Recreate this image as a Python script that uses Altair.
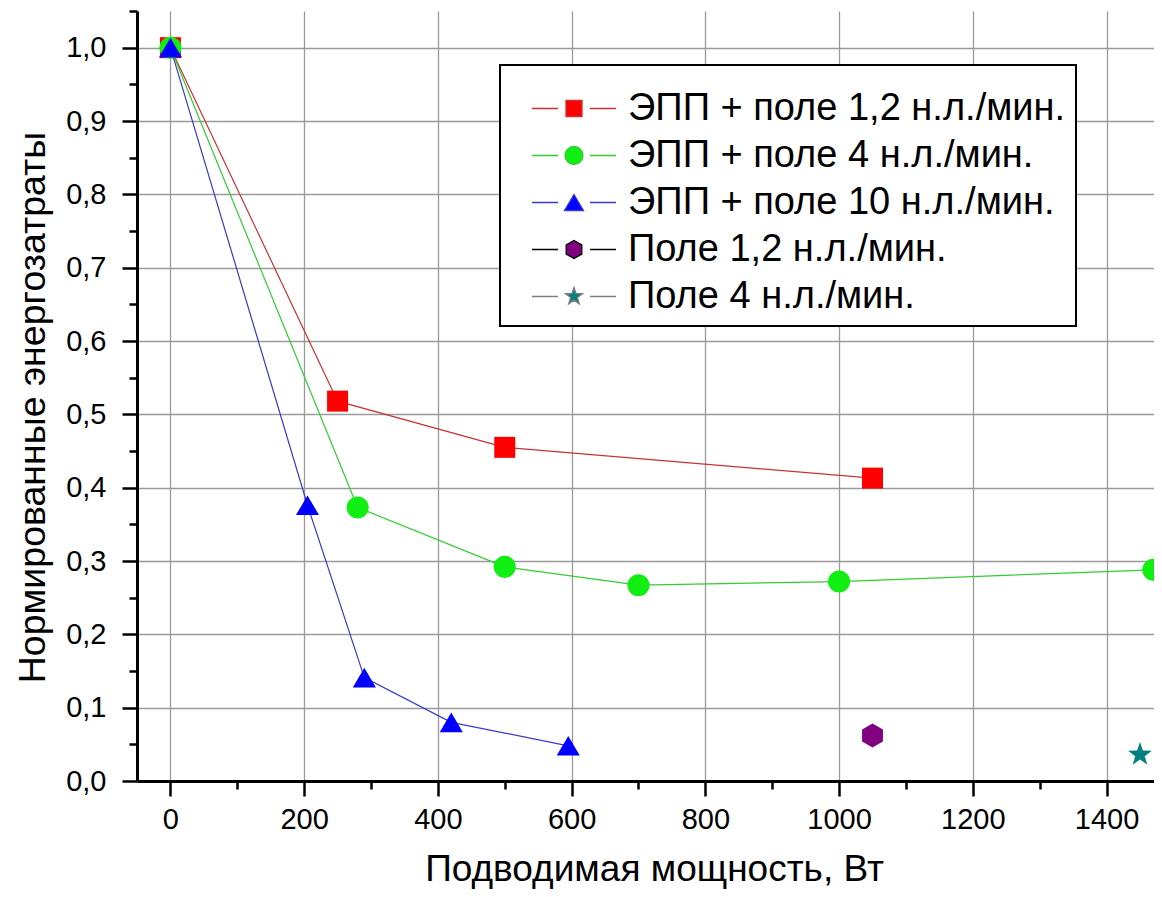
import altair as alt
import pandas as pd

FONT = "Liberation Sans"

series_names = [
    "ЭПП + поле 1,2 н.л./мин.",
    "ЭПП + поле 4 н.л./мин.",
    "ЭПП + поле 10 н.л./мин.",
    "Поле 1,2 н.л./мин.",
    "Поле 4 н.л./мин.",
]

red_x = [0, 250, 500, 1050]
red_y = [1.0, 0.518, 0.455, 0.413]
green_x = [0, 280, 500, 700, 1000, 1470]
green_y = [1.0, 0.373, 0.292, 0.267, 0.272, 0.288]
blue_x = [0, 205, 290, 420, 595]
blue_y = [1.0, 0.376, 0.141, 0.080, 0.048]
purple_x = [1050]
purple_y = [0.062]
teal_x = [1450]
teal_y = [0.036]

x_ticks = list(range(0, 1401, 100))
y_ticks = [round(i * 0.05, 2) for i in range(0, 22)]

xs_all = [red_x, green_x, blue_x, purple_x, teal_x]
ys_all = [red_y, green_y, blue_y, purple_y, teal_y]
rows = []
for name, xs, ys in zip(series_names, xs_all, ys_all):
    for xv, yv in zip(xs, ys):
        rows.append({"series": name, "x": xv, "y": yv})
df = pd.DataFrame(rows)
df_lines = df[df["series"].isin(series_names[:3])]

fill_colors = ["#ff0000", "#11ee11", "#0000ff", "#800080", "#008080"]
line_colors = ["#c83232", "#33cc33", "#3a3ac8", "#000000", "#808080"]

sq = "M-1,-1H1V1H-1Z"
circ = "M-1,0A1,1 0 1,0 1,0A1,1 0 1,0 -1,0Z"
tri = "M0,-0.85L1,0.85L-1,0.85Z"
hexa = "M0,-1L0.866,-0.5L0.866,0.5L0,1L-0.866,0.5L-0.866,-0.5Z"
star = ("M0,-1L0.235,-0.324L0.951,-0.309L0.380,0.124L0.588,0.809L0,0.4"
        "L-0.588,0.809L-0.380,0.124L-0.951,-0.309L-0.235,-0.324Z")
shape_paths = [sq, circ, tri, hexa, star]
marker_sizes = [441, 625, 930, 784, 860]

seg = "M-4.2,0H-1.6M1.6,0H4.2"
leg_paths = [
    seg + "M-0.8,-0.8H0.8V0.8H-0.8Z",
    seg + "M-0.9,0A0.9,0.9 0 1,0 0.9,0A0.9,0.9 0 1,0 -0.9,0Z",
    seg + "M0,-0.8L0.95,0.8L-0.95,0.8Z",
    seg + "M0,-0.9L0.78,-0.45L0.78,0.45L0,0.9L-0.78,0.45L-0.78,-0.45Z",
    seg + "M0,-0.9L0.21,-0.29L0.86,-0.28L0.34,0.11L0.53,0.73L0,0.36"
          "L-0.53,0.73L-0.34,0.11L-0.86,-0.28L-0.21,-0.29Z",
]

leg = alt.Legend(
    title=" ",
    titleFontSize=2,
    titlePadding=12,
    orient="none",
    legendX=363,
    legendY=54,
    fillColor="white",
    strokeColor="black",
    padding=10.5,
    rowPadding=9,
    symbolOffset=44.5,
    labelOffset=35,
    labelFont=FONT,
    labelFontSize=38,
    labelColor="black",
    labelLimit=700,
    symbolSize=400,
    symbolStrokeWidth=1.3,
    symbolOpacity=1,
)

x_enc = alt.X(
    "x:Q",
    scale=alt.Scale(domain=[-50, 1471], nice=False, zero=False),
    axis=alt.Axis(
        values=x_ticks,
        labelExpr="datum.value % 200 == 0 ? format(datum.value, 'd') : ''",
        tickSize={"condition": {"test": "datum.value % 200 == 0", "value": 15}, "value": 8},
        gridOpacity={"condition": {"test": "datum.value % 200 == 0", "value": 1}, "value": 0},
        labelPadding=9,
        labelOverlap=False,
        labelFlush=False,
        title="Подводимая мощность, Вт",
        titleX=517,
        titleY=99,
        titleBaseline="alphabetic",
        titleAlign="center",
        titleFontSize=37,
    ),
)
y_enc = alt.Y(
    "y:Q",
    scale=alt.Scale(domain=[0, 1.05], nice=False, zero=False),
    axis=alt.Axis(
        values=y_ticks,
        labelExpr="round(datum.value*100) % 10 == 0 ? replace(format(datum.value, '.1f'), '.', ',') : ''",
        tickSize={"condition": {"test": "round(datum.value*100) % 10 == 0", "value": 15}, "value": 8},
        gridOpacity={"condition": {"test": "round(datum.value*100) % 10 == 0", "value": 1}, "value": 0},
        labelPadding=16,
        labelOverlap=False,
        labelFlush=False,
        title="Нормированные энергозатраты",
        titleX=-93,
        titleY=396,
        titleBaseline="alphabetic",
        titleAlign="center",
        titleAngle=270,
        titleFontSize=37.5,
    ),
)

lines = alt.Chart(df_lines).mark_line(strokeWidth=1.2).encode(
    x=x_enc,
    y=y_enc,
    stroke=alt.Stroke("series:N", scale=alt.Scale(domain=series_names, range=line_colors), legend=None),
    order="x:Q",
)

points = alt.Chart(df).mark_point(filled=True, opacity=1, strokeWidth=0).encode(
    x=x_enc,
    y=y_enc,
    fill=alt.Fill("series:N", scale=alt.Scale(domain=series_names, range=fill_colors), legend=None),
    shape=alt.Shape("series:N", scale=alt.Scale(domain=series_names, range=shape_paths), legend=None),
    size=alt.Size("series:N", scale=alt.Scale(domain=series_names, range=marker_sizes), legend=None),
)

legend_layer = alt.Chart(df).mark_point(filled=True, opacity=0, strokeWidth=1.3).encode(
    x=x_enc,
    y=y_enc,
    fill=alt.Fill("series:N", scale=alt.Scale(domain=series_names, range=fill_colors), legend=leg),
    stroke=alt.Stroke("series:N", scale=alt.Scale(domain=series_names, range=line_colors), legend=leg),
    shape=alt.Shape("series:N", scale=alt.Scale(domain=series_names, range=leg_paths), legend=leg),
)

chart = (
    alt.layer(lines, points, legend_layer)
    .resolve_scale(fill="independent", stroke="independent", shape="independent", size="independent")
    .properties(
        width=1017,
        height=770,
        autosize=alt.AutoSizeParams(type="none"),
        padding={"left": 129, "top": 3, "right": 0, "bottom": 108},
        background="white",
    )
    .configure_view(stroke=None)
    .configure_axis(
        domainColor="black",
        domainWidth=3,
        tickColor="black",
        tickWidth=2.5,
        gridColor="#9a9a9a",
        gridWidth=1.3,
        labelFont=FONT,
        labelFontSize=29,
        labelColor="black",
        titleFont=FONT,
        titleFontWeight="normal",
        titleColor="black",
    )
    .configure_legend(strokeWidth=2)
)

chart.save("out.html", embed_options={"renderer": "svg", "actions": False})
